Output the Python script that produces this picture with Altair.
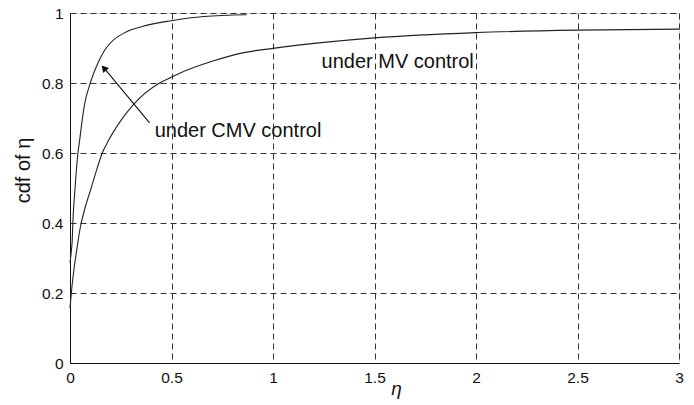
import altair as alt
import pandas as pd

# ---- data ----
cmv_eta = [0.0, 0.007, 0.011, 0.014, 0.025, 0.039, 0.047, 0.06, 0.071, 0.1, 0.125,
           0.149, 0.17, 0.2, 0.277, 0.359, 0.5, 0.66, 0.87]
cmv_cdf = [0.286, 0.323, 0.351, 0.4, 0.5, 0.6, 0.634, 0.694, 0.737, 0.8, 0.84,
           0.871, 0.893, 0.915, 0.946, 0.962, 0.978, 0.99, 0.995]

mv_eta = [0.0, 0.01, 0.02, 0.035, 0.05, 0.075, 0.101, 0.126, 0.159, 0.188, 0.252,
          0.31, 0.441, 0.5, 0.54, 0.7, 0.85, 1.0, 1.25, 1.5, 2.0, 2.5, 3.0]
mv_cdf = [0.157, 0.22, 0.27, 0.33, 0.385, 0.445, 0.494, 0.542, 0.6, 0.634, 0.694,
          0.737, 0.8, 0.817, 0.828, 0.862, 0.886, 0.899, 0.916, 0.929, 0.944, 0.951, 0.954]

x_ticks = [0, 0.5, 1, 1.5, 2, 2.5, 3]
y_ticks = [0, 0.2, 0.4, 0.6, 0.8, 1]

label_text = ["under CMV control", "under MV control"]
label_eta = [0.417, 1.239]
label_cdf = [0.647, 0.843]

arrow_tail = (0.392, 0.686)
arrow_head = (0.167, 0.843)

FONT = "Liberation Sans"

rows = []
for i, (e, c) in enumerate(zip(cmv_eta, cmv_cdf)):
    rows.append({"series": "CMV", "eta": e, "cdf": c, "i": i})
for i, (e, c) in enumerate(zip(mv_eta, mv_cdf)):
    rows.append({"series": "MV", "eta": e, "cdf": c, "i": i})
curves = pd.DataFrame(rows)

xscale = alt.Scale(domain=[0, 3], nice=False, zero=False)
yscale = alt.Scale(domain=[0, 1], nice=False, zero=False)

xaxis = alt.Axis(values=x_ticks, format="~g", labelFlush=False, labelFont=FONT,
                 labelFontSize=15.5, labelColor="#111", labelPadding=7, ticks=False,
                 domainColor="#111", grid=True, gridDash=[6, 4], gridColor="#333",
                 gridWidth=1, title="η", titleFont=FONT, titleFontSize=19,
                 titleFontStyle="italic", titleFontWeight="normal", titleColor="#111",
                 titleX=326, titleY=31, titleBaseline="alphabetic", titleAlign="center")
yaxis = alt.Axis(values=y_ticks, format="~g", labelFlush=False, labelFont=FONT,
                 labelFontSize=15.5, labelColor="#111", labelPadding=7, ticks=False,
                 domainColor="#111", grid=True, gridDash=[6, 4], gridColor="#333",
                 gridWidth=1, title="cdf of η", titleFont=FONT, titleFontSize=20,
                 titleFontWeight="normal", titleColor="#111", titleAngle=270,
                 titleX=-41, titleY=157, titleBaseline="alphabetic", titleAlign="center")

lines = alt.Chart(curves).mark_line(color="#222", strokeWidth=1.1, interpolate="monotone").encode(
    x=alt.X("eta:Q", scale=xscale, axis=xaxis),
    y=alt.Y("cdf:Q", scale=yscale, axis=yaxis),
    detail="series:N",
    order="i:Q",
)

labels = alt.Chart(pd.DataFrame({"t": label_text, "eta": label_eta, "cdf": label_cdf})).mark_text(
    align="left", baseline="alphabetic", font=FONT, fontSize=20, color="#111"
).encode(x="eta:Q", y="cdf:Q", text="t:N")

arrow_df = pd.DataFrame({"x": [arrow_tail[0]], "y": [arrow_tail[1]],
                         "x2": [arrow_head[0]], "y2": [arrow_head[1]]})
arrow_line = alt.Chart(arrow_df).mark_rule(color="#111", strokeWidth=1.1).encode(
    x="x:Q", y="y:Q", x2="x2:Q", y2="y2:Q")
arrow_head_pt = alt.Chart(pd.DataFrame({"x": [arrow_head[0]], "y": [arrow_head[1]]})).mark_point(
    shape="triangle-up", filled=True, color="#111", size=60, angle=319, opacity=1
).encode(x="x:Q", y="y:Q")

chart = alt.layer(lines, arrow_line, arrow_head_pt, labels).properties(
    width=609, height=350,
    autosize=alt.AutoSizeParams(type="none"),
    padding={"left": 70, "top": 13, "right": 15, "bottom": 42},
).configure_view(stroke="#333", strokeWidth=1).configure(background="white")

chart.save("out.html", embed_options={"renderer": "svg", "actions": False})
